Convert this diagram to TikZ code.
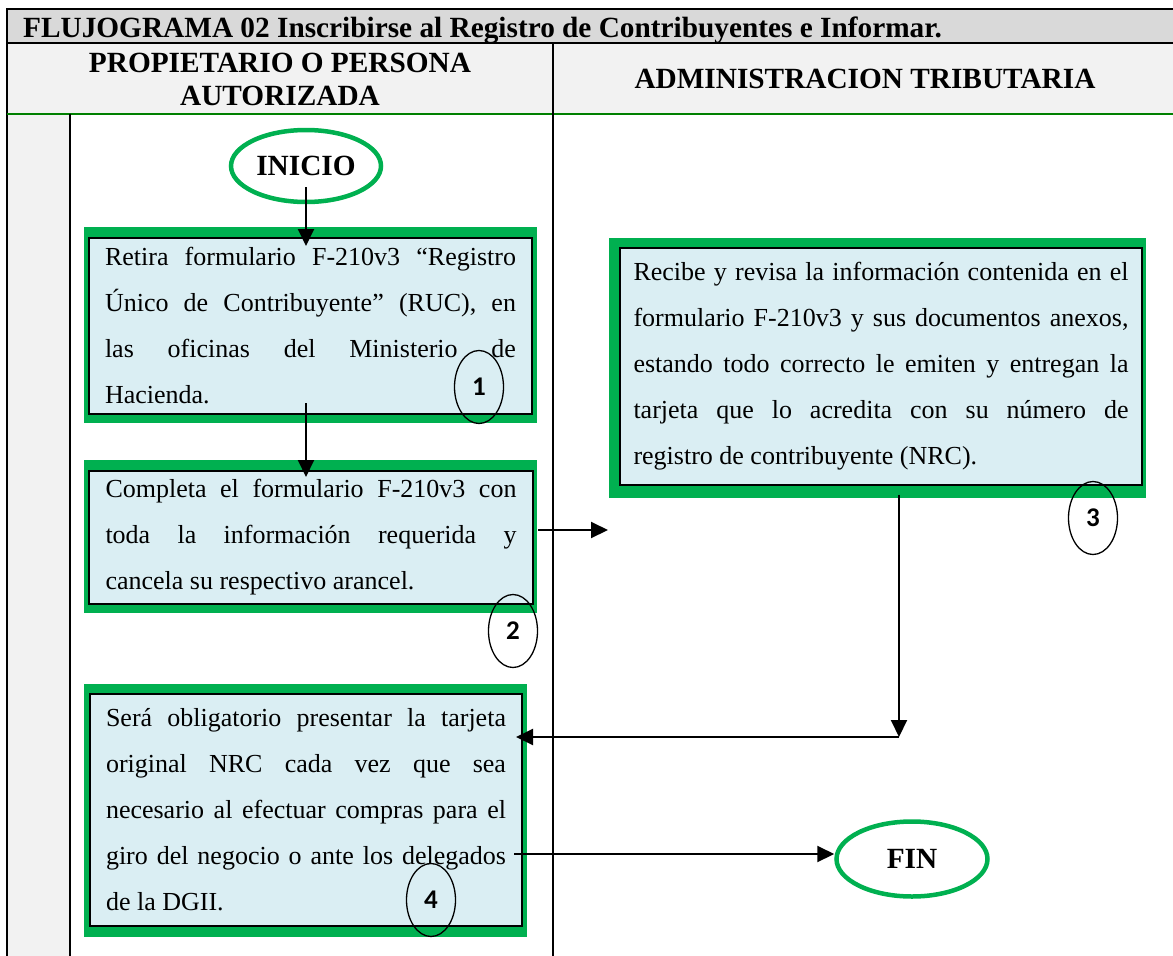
\documentclass[tikz,border=0pt]{standalone}
\usepackage{fontspec}
\setmainfont{Liberation Serif}
\newfontfamily\numfont{Carlito}
\usetikzlibrary{arrows.meta,shapes.geometric}
\definecolor{flowgreen}{HTML}{00B050}
\definecolor{rulegreen}{HTML}{008000}
\definecolor{boxblue}{HTML}{DAEEF3}
\definecolor{titlegray}{HTML}{D9D9D9}
\definecolor{headgray}{HTML}{F2F2F2}
\hyphenpenalty=10000
\tikzset{
  stepbox/.style={draw, line width=2pt, fill=boxblue, inner sep=0pt, align=justify,
    font=\fontsize{26}{46}\selectfont},
  greenband/.style={fill=flowgreen},
  terminal/.style={ellipse, draw=flowgreen, line width=4.5pt, minimum width=150pt,
    minimum height=72pt, font=\bfseries\fontsize{29.3}{33}\selectfont},
  numtag/.style={ellipse, draw, line width=1.3pt, minimum width=49pt, minimum height=73pt,
    inner sep=0pt, font=\numfont\bfseries\fontsize{27}{27}\selectfont},
  flow/.style={line width=2pt, -{Triangle[length=17pt,width=16pt]}},
  tabline/.style={line width=2pt},
  headtext/.style={inner sep=0pt, font=\bfseries\fontsize{29.3}{33}\selectfont}
}
\begin{document}
\begin{tikzpicture}[x=1pt, y=-1pt]
    \useasboundingbox (0,0) rectangle (1173,956);
    \clip (0,0) rectangle (1173,956);

    \fill[titlegray] (7,9) rectangle (1180,43);
    \fill[headgray] (7,43) rectangle (1180,114);
    \fill[headgray] (7,114) rectangle (70,960);
    \draw[tabline] (7,960) -- (7,9) -- (1180,9);
    \draw[tabline] (7,43) -- (1180,43);
    \draw[rulegreen, line width=2.5pt] (7,114) -- (1180,114);
    \draw[tabline] (553,43) -- (553,960);
    \draw[tabline] (70,114) -- (70,960);

    \node[headtext, anchor=base west] (title) at (23,37) {FLUJOGRAMA 02 Inscribirse al Registro de Contribuyentes e Informar.};
    \node[headtext, align=center] (lane1) at (280,79) {PROPIETARIO O PERSONA\\AUTORIZADA};
    \node[headtext, anchor=base] (lane2) at (865,88) {ADMINISTRACION TRIBUTARIA};

    \fill[greenband] (84,227) rectangle (537,423);
    \fill[greenband] (84,460) rectangle (537,613);
    \fill[greenband] (609,238) rectangle (1146,498);
    \fill[greenband] (84,684) rectangle (527,937);

    \node[terminal] (inicio) at (306,166) {INICIO};
    \node[stepbox, minimum width=443pt, minimum height=176pt, text width=411pt] (retira) at (310.5,326)
        {Retira formulario F-210v3 “Registro\linebreak Único de Contribuyente” (RUC), en\linebreak las oficinas del Ministerio de\linebreak Hacienda.};
    \node[stepbox, minimum width=444pt, minimum height=133pt, text width=411pt] (completa) at (311,537.5)
        {Completa el formulario F-210v3 con\linebreak toda la información requerida y\linebreak cancela su respectivo arancel.};
    \node[stepbox, minimum width=522pt, minimum height=237pt, text width=495pt] (recibe) at (881,366)
        {Recibe y revisa la información contenida en el\linebreak formulario F-210v3 y sus documentos anexos,\linebreak estando todo correcto le emiten y entregan la\linebreak tarjeta que lo acredita con su número de\linebreak registro de  contribuyente (NRC).};
    \node[stepbox, minimum width=432pt, minimum height=232pt, text width=400pt] (presenta) at (306,810)
        {Será obligatorio presentar la tarjeta\linebreak original NRC cada vez que sea\linebreak necesario al efectuar compras para el\linebreak giro del negocio o ante los delegados\linebreak de la DGII.};
    \node[terminal, minimum width=151pt, minimum height=75pt] (fin) at (912,859) {FIN};

    \node[numtag] (num1) at (479,387) {1};
    \node[numtag] (num2) at (513,631) {2};
    \node[numtag] (num3) at (1093,518) {3};
    \node[numtag] (num4) at (431,900) {4};

    \coordinate (gap) at (608,530);
    \coordinate (turn) at (899,737);

    \draw[flow] ([yshift=-21pt]inicio.center) -- ([xshift=-4.5pt,yshift=-9pt]retira.north);
    \draw[flow] ([xshift=-4.5pt,yshift=12pt]retira.south) -- ([xshift=-5pt,yshift=-7pt]completa.north);
    \draw[flow] ([xshift=4pt]completa.east |- gap) -- (gap);
    \draw[flow] ([yshift=-9pt]recibe.south -| turn) -- (turn);
    \draw[flow] (turn) -- ([xshift=-7pt]presenta.east |- turn);
    \draw[flow] ([xshift=-9pt,yshift=5pt]presenta.east |- fin.west) -- ([yshift=5pt]fin.west);
\end{tikzpicture}
\end{document}
